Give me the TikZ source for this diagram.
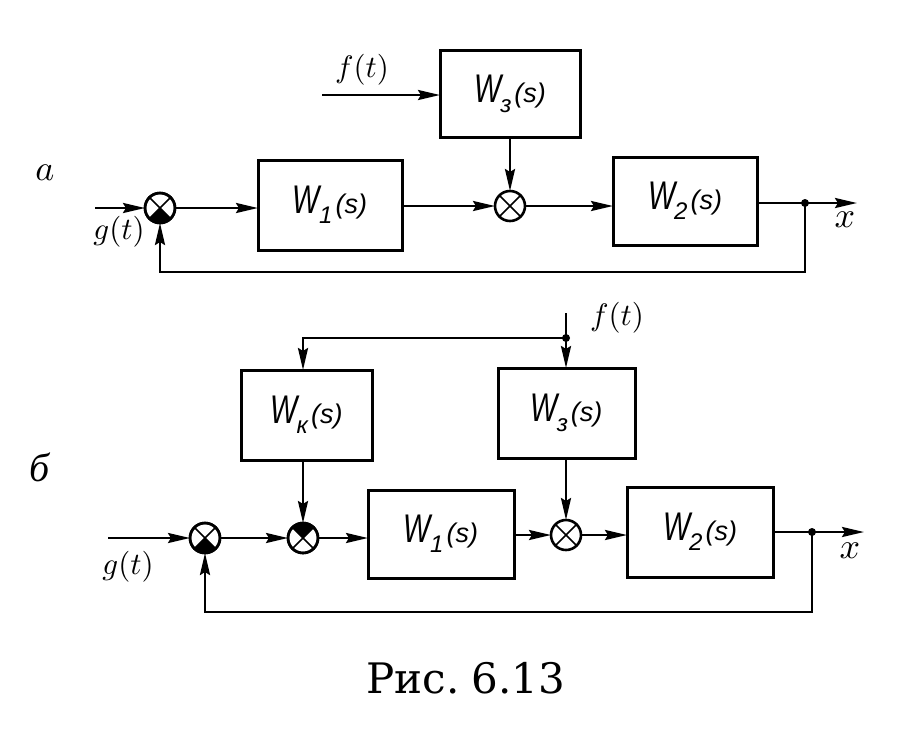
\documentclass[tikz,border=0pt]{standalone}
\usepackage{fontspec}
\usepackage{graphicx}
\usetikzlibrary{arrows.meta}
\newfontfamily\boxfont{Liberation Sans}
\newfontfamily\cyrserif{Liberation Serif}
\newfontfamily\capfont{DejaVu Serif}
\newcommand\TF[1]{{\boxfont\itshape\fontsize{40}{40}\selectfont\scalebox{0.72}[1]{W}\kern-1pt\raisebox{-10pt}{\fontsize{24}{24}\selectfont#1}\kern3pt{\fontsize{27}{27}\selectfont(s)}}}
\newcommand\LB[1]{\scalebox{3.1}{$#1$}}
\begin{document}
\begin{tikzpicture}[x=1pt,y=1pt,line width=2.6pt,
  blk/.style={draw,rectangle,line width=3pt,inner sep=0pt,outer sep=0pt},
  sumj/.style={draw,circle,line width=2.6pt,minimum size=30pt,inner sep=0pt,outer sep=0pt},
  arr/.style={-{Stealth[length=22pt,width=10pt,inset=3pt]}},
  lbl/.style={inner sep=0pt}]
\useasboundingbox (0,0) rectangle (915,-740);
% helpers
\newcommand\sumx[1]{\draw[line width=1.6pt] (#1.45) -- (#1.225) (#1.135) -- (#1.315);}
\newcommand\fillq[2]{\fill (#1.center) -- (#1.#2) arc[start angle=#2, delta angle=90, radius=15pt] -- cycle;}
% ---------- panel a ----------
\node[lbl] (la) at (45,-173) {\scalebox{3.6}{$a$}};
\node[blk,minimum width=144pt,minimum height=90pt] (W1a) at (330,-205) {\TF{1}};
\node[blk,minimum width=140pt,minimum height=87pt] (W3a) at (510,-93.5) {\TF{з}};
\node[blk,minimum width=144pt,minimum height=88pt] (W2a) at (685,-201) {\TF{2}};
\node[sumj] (s1a) at (160,-208) {};
\node[sumj] (s2a) at (510,-206) {};
\fillq{s1a}{225}
\draw[line width=2.6pt] (s1a) circle[radius=15pt];
\sumx{s1a}\sumx{s2a}
\coordinate (ga) at (95,-208);
\coordinate (fa) at (322,-95);
\coordinate (oa) at (805,-203);
\coordinate (ea) at (857,-203);
\coordinate (fba) at (805,-272);
\node[lbl] (gla) at (119,-232) {\LB{g(t)}};
\node[lbl] (fla) at (362,-70) {\LB{f(t)}};
\node[lbl] (xa) at (845,-220) {\scalebox{3.6}{$x$}};
\draw[arr] (ga) -- (s1a.west);
\draw[arr] (s1a.east) -- (s1a.east -| W1a.west);
\draw[arr] (s2a.west -| W1a.east) -- (s2a.west);
\draw[arr] (fa) -- (fa -| W3a.west);
\draw[arr] (W3a.south) -- (s2a.north);
\draw[arr] (s2a.east) -- (s2a.east -| W2a.west);
\draw[arr] (oa -| W2a.east) -- (ea);
\fill (oa) circle[radius=4pt];
\draw[arr] (oa) -- (fba) -- (fba -| s1a) -- (s1a.south);
% ---------- panel b ----------
\node[lbl] (lb) at (40,-467) {\cyrserif\itshape\fontsize{40}{40}\selectfont б};
\node[blk,minimum width=131pt,minimum height=90pt] (Wk) at (306.5,-415) {\TF{к}};
\node[blk,minimum width=137pt,minimum height=90pt] (W3b) at (566.5,-413) {\TF{з}};
\node[blk,minimum width=146pt,minimum height=88pt] (W1b) at (441,-534) {\TF{1}};
\node[blk,minimum width=146pt,minimum height=90pt] (W2b) at (700,-532) {\TF{2}};
\node[sumj] (s1b) at (205,-538) {};
\node[sumj] (s2b) at (303,-538) {};
\node[sumj] (s3b) at (566,-535) {};
\fillq{s1b}{225}
\fillq{s2b}{45}
\draw[line width=2.6pt] (s1b) circle[radius=15pt] (s2b) circle[radius=15pt];
\sumx{s1b}\sumx{s2b}\sumx{s3b}
\coordinate (gb) at (108,-538);
\coordinate (ftop) at (566,-313);
\coordinate (fdot) at (566,-338);
\coordinate (kc) at (303,-338);
\coordinate (ob) at (812,-532);
\coordinate (eb) at (864,-532);
\coordinate (fbb) at (812,-612);
\node[lbl] (glb) at (128,-567) {\LB{g(t)}};
\node[lbl] (flb) at (617,-318) {\LB{f(t)}};
\node[lbl] (xb) at (850,-551) {\scalebox{3.6}{$x$}};
\draw[arr] (ftop) -- (W3b.north -| ftop);
\fill (fdot) circle[radius=4pt];
\draw[arr] (fdot) -- (kc) -- (kc |- Wk.north);
\draw[arr] (gb) -- (s1b.west);
\draw[arr] (s1b.east) -- (s2b.west);
\draw[arr] (Wk.south -| s2b) -- (s2b.north);
\draw[arr] (s2b.east) -- (s2b.east -| W1b.west);
\draw[arr] (s3b.west -| W1b.east) -- (s3b.west);
\draw[arr] (W3b.south -| s3b) -- (s3b.north);
\draw[arr] (s3b.east) -- (s3b.east -| W2b.west);
\draw[arr] (ob -| W2b.east) -- (eb);
\fill (ob) circle[radius=4pt];
\draw[arr] (ob) -- (fbb) -- (fbb -| s1b) -- (s1b.south);
% caption
\node[lbl] (cap) at (466,-678) {\capfont\fontsize{42}{42}\selectfont Рис.\hspace{12pt}6.13};
\end{tikzpicture}
\end{document}
